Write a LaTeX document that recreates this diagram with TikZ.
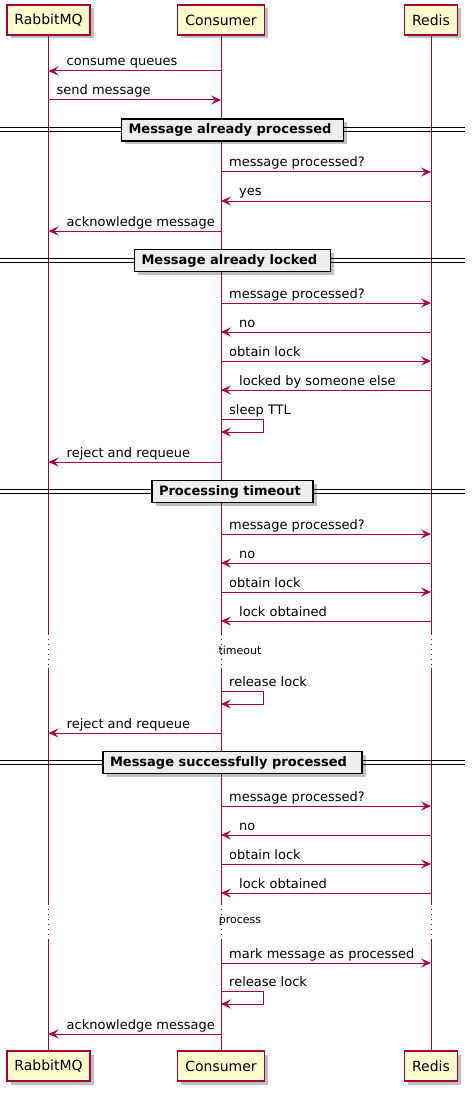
\documentclass[tikz,border=0pt]{standalone}
\usepackage{fontspec}
\setmainfont{DejaVu Sans}
\usetikzlibrary{arrows.meta,shadows}
\definecolor{plantred}{HTML}{A80036}
\definecolor{partfill}{HTML}{FEFECE}
\definecolor{divfill}{HTML}{EEEEEE}
\newcommand\msgfont{\fontsize{13}{15}\selectfont}
\newcommand\partfont{\fontsize{14}{16}\selectfont}
\newcommand\delayfont{\fontsize{11}{13}\selectfont}
\def\xR{48.5}\def\xC{221}\def\xD{431}
\tikzset{
  participant/.style={draw=plantred, fill=partfill, line width=1.2pt, minimum height=30pt,
    inner xsep=0pt, font=\partfont, text=black,
    drop shadow={shadow xshift=3.5pt, shadow yshift=-3.5pt, fill=black, opacity=0.25}},
  life/.style={draw=plantred, line width=1pt},
  lifedot/.style={draw=plantred, line width=1pt, dash pattern=on 1pt off 4pt},
  msg/.style={draw=plantred, line width=1pt, -{Stealth[length=10pt,width=9pt,inset=4pt]}},
  lbl/.style={anchor=base west, inner sep=0pt, font=\msgfont, text=black},
  divbox/.style={draw=black, line width=1.5pt, fill=divfill, minimum height=22pt, inner xsep=7pt,
    inner ysep=0pt, font=\msgfont\bfseries, text=black,
    drop shadow={shadow xshift=3.5pt, shadow yshift=-3.5pt, fill=black, opacity=0.25}},
  divline/.style={draw=black, line width=1pt},
  delaytxt/.style={font=\delayfont, text=black, inner sep=0pt}
}
% rightward message: name, y, xfrom, xto, label
\newcommand\msgto[5]{%
  \coordinate (#1a) at (#3,#2); \coordinate (#1b) at (#4,#2);
  \draw[msg] (#1a) -- (#1b);
  \node[lbl] (#1t) at ({#3+8},{#2-5}) {#5};}
% leftward message: name, y, xfrom, xto, label
\newcommand\msgback[5]{%
  \coordinate (#1a) at (#3,#2); \coordinate (#1b) at (#4,#2);
  \draw[msg] (#1a) -- (#1b);
  \node[lbl] (#1t) at ({#4+18},{#2-5}) {#5};}
% self message on Consumer: name, y, label
\newcommand\selfmsg[3]{%
  \coordinate (#1a) at (\xC,#2); \coordinate (#1b) at (\xC,{#2+13});
  \draw[msg] (#1a) -- ++(42,0) -- ++(0,13) -- (#1b);
  \node[lbl] (#1t) at ({\xC+8},{#2-5}) {#3};}
% divider: name, y, width, text
\newcommand\divider[4]{%
  \coordinate (#1l) at (0,#2); \coordinate (#1r) at (465,#2);
  \draw[divline] ([yshift=2pt]#1l) -- ([yshift=2pt]#1r);
  \draw[divline] ([yshift=-2pt]#1l) -- ([yshift=-2pt]#1r);
  \node[divbox] (#1) at (232.5,#2) {\makebox[\dimexpr#3pt-14pt\relax][l]{#4}};}
\begin{document}
\begin{tikzpicture}[x=1pt,y=-1pt]
\useasboundingbox (0,0) rectangle (471,1094);
% participants
\node[participant, minimum width=83pt] (rT) at (\xR,20) {RabbitMQ};
\node[participant, minimum width=87pt] (cT) at (\xC,20) {Consumer};
\node[participant, minimum width=53pt] (dT) at (\xD,20) {Redis};
\node[participant, minimum width=83pt] (rB) at (\xR,1066) {RabbitMQ};
\node[participant, minimum width=87pt] (cB) at (\xC,1066) {Consumer};
\node[participant, minimum width=53pt] (dB) at (\xD,1066) {Redis};
% lifelines
\foreach \p/\x in {r/\xR, c/\xC, d/\xD}{
  \coordinate (\p1) at (\x,634); \coordinate (\p2) at (\x,668);
  \coordinate (\p3) at (\x,904); \coordinate (\p4) at (\x,940);
  \draw[life] (\p T.south) -- (\p1) (\p2) -- (\p3) (\p4) -- (\p B.north);
  \draw[lifedot] (\p1) -- (\p2) (\p3) -- (\p4);
}
% messages
\msgback{m1}{71}{\xC}{\xR}{consume queues}
\msgto{m2}{100}{\xR}{\xC}{send message}
\divider{d1}{130}{222}{Message already processed}
\msgto{m3}{172}{\xC}{\xD}{message processed?}
\msgback{m4}{201}{\xD}{\xC}{yes}
\msgback{m5}{231}{\xC}{\xR}{acknowledge message}
\divider{d2}{260.5}{196}{Message already locked}
\msgto{m6}{303}{\xC}{\xD}{message processed?}
\msgback{m7}{332}{\xD}{\xC}{no}
\msgto{m8}{361}{\xC}{\xD}{obtain lock}
\msgback{m9}{390}{\xD}{\xC}{locked by someone else}
\selfmsg{s1}{419}{sleep TTL}
\msgback{m10}{462}{\xC}{\xR}{reject and requeue}
\divider{d3}{491.5}{161}{Processing timeout}
\msgto{m11}{534}{\xC}{\xD}{message processed?}
\msgback{m12}{563}{\xD}{\xC}{no}
\msgto{m13}{592}{\xC}{\xD}{obtain lock}
\msgback{m14}{621}{\xD}{\xC}{lock obtained}
\node[delaytxt] (t1) at (240,650) {timeout};
\selfmsg{s2}{691}{release lock}
\msgback{m15}{733}{\xC}{\xR}{reject and requeue}
\divider{d4}{762.5}{259}{Message successfully processed}
\msgto{m16}{806}{\xC}{\xD}{message processed?}
\msgback{m17}{835}{\xD}{\xC}{no}
\msgto{m18}{864}{\xC}{\xD}{obtain lock}
\msgback{m19}{893}{\xD}{\xC}{lock obtained}
\node[delaytxt] (t2) at (240,922) {process};
\msgto{m20}{963}{\xC}{\xD}{mark message as processed}
\selfmsg{s3}{991}{release lock}
\msgback{m21}{1034}{\xC}{\xR}{acknowledge message}
\end{tikzpicture}
\end{document}
